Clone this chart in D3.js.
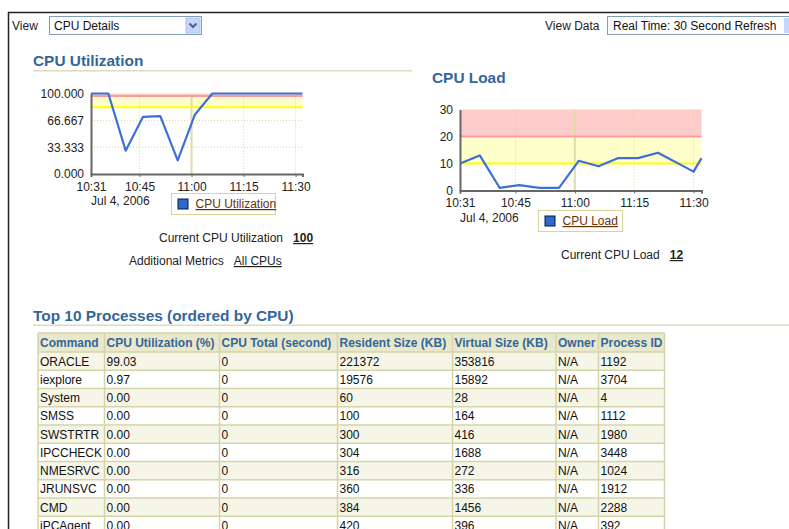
<!DOCTYPE html>
<html><head><meta charset="utf-8">
<script src="https://cdn.jsdelivr.net/npm/d3@7"></script>
<style>
html,body{margin:0;padding:0;background:#fff;overflow:hidden}
svg text{font-family:"Liberation Sans",Arial,sans-serif}
</style></head>
<body><svg id="c" width="789" height="529"></svg>
<script>
// ---- data ----
const times = ["10:31","10:36","10:41","10:46","10:51","10:56","11:01","11:06","11:11","11:16","11:21","11:30","11:32"];
const cpuUtil = [100,100,29,71,72,17,74,100,100,100,100,100,100];
const cpuLoad = [10,13,1,2,1,1,11,9,12,12,14,7,12];
const xTickLabels = ["10:31","10:45","11:00","11:15","11:30"];
const utilTicks = [0,33.333,66.667,100];
const loadTicks = [0,10,20,30];
const utilThresholds = [83,97];   // warning, critical
const loadThresholds = [10,20];
const dateLabel = "Jul 4, 2006";

const tableColumns = ["Command","CPU Utilization (%)","CPU Total (second)","Resident Size (KB)","Virtual Size (KB)","Owner","Process ID"];
const commands = ["ORACLE","iexplore","System","SMSS","SWSTRTR","IPCCHECK","NMESRVC","JRUNSVC","CMD","iPCAgent"];
const cpuPct = ["99.03","0.97","0.00","0.00","0.00","0.00","0.00","0.00","0.00","0.00"];
const cpuTotal = ["0","0","0","0","0","0","0","0","0","0"];
const residentKB = ["221372","19576","60","100","300","304","316","360","384","420"];
const virtualKB = ["353816","15892","28","164","416","1688","272","336","1456","396"];
const owners = ["N/A","N/A","N/A","N/A","N/A","N/A","N/A","N/A","N/A","N/A"];
const pids = ["1192","3704","4","1112","1980","3448","1024","1912","2288","392"];

const parse = d3.timeParse("%H:%M");
const svg = d3.select("#c");

// ---- page frame ----
svg.append("line").attr("x1",8).attr("x2",789).attr("y1",12.5).attr("y2",12.5).attr("stroke","#222").attr("stroke-width",1.5);
svg.append("line").attr("x1",8.5).attr("x2",8.5).attr("y1",12).attr("y2",529).attr("stroke","#222").attr("stroke-width",1.5);

// selects
svg.append("text").attr("x",12).attr("y",30).attr("font-size",12).attr("fill","#222").text("View");
svg.append("rect").attr("x",49.5).attr("y",16.5).attr("width",152).attr("height",18).attr("fill","#fff").attr("stroke","#7f9db9");
svg.append("text").attr("x",54).attr("y",30).attr("font-size",12).attr("fill","#111").text("CPU Details");
const btn = svg.append("g");
btn.append("rect").attr("x",186).attr("y",18).attr("width",14).attr("height",15).attr("fill","#c6d5fb").attr("stroke","#b0c4f0");
btn.append("path").attr("d","M189.5,23.5 L193,27 L196.5,23.5").attr("fill","none").attr("stroke","#4d6185").attr("stroke-width",2);
svg.append("text").attr("x",545).attr("y",30).attr("font-size",12).attr("fill","#222").text("View Data");
svg.append("rect").attr("x",607.5).attr("y",16.5).attr("width",200).attr("height",18).attr("fill","#fff").attr("stroke","#7f9db9");
svg.append("text").attr("x",613).attr("y",30).attr("font-size",12).attr("fill","#111").text("Real Time: 30 Second Refresh");
svg.append("rect").attr("x",784).attr("y",18).attr("width",10).attr("height",15).attr("fill","#c6d5fb");

// headings
function heading(x,y,txt,lineX2,lineY){
  svg.append("text").attr("x",x).attr("y",y).attr("font-size",15.4).attr("font-weight","bold").attr("fill","#336699").text(txt);
  if(lineX2) svg.append("rect").attr("x",x).attr("y",lineY).attr("width",lineX2-x).attr("height",1.5).attr("fill","#dcdcc0");
}
heading(33,66,"CPU Utilization",412,70);
heading(432,83,"CPU Load",null,null);
heading(33,321,"Top 10 Processes (ordered by CPU)",789,324.5);

// ---- charts ----
function chart(o){
  const x = d3.scaleTime().domain([parse("10:31"),parse("11:32")]).range([o.x0,o.x1]);
  const y = d3.scaleLinear().domain([0,o.ymax]).range([o.y0,o.y1]);
  const g = svg.append("g");
  // bands
  g.append("rect").attr("x",o.x0).attr("width",o.x1-o.x0).attr("y",y(o.ymax)).attr("height",y(o.th[1])-y(o.ymax)).attr("fill","#ffcccc");
  g.append("rect").attr("x",o.x0).attr("width",o.x1-o.x0).attr("y",y(o.th[1])).attr("height",y(o.th[0])-y(o.th[1])).attr("fill","#ffffcc");
  // grid
  o.ticks.filter(t=>t>0&&t<o.ymax).forEach(t=>{
    g.append("line").attr("x1",o.x0).attr("x2",o.x1).attr("y1",y(t)).attr("y2",y(t)).attr("stroke","#d8d490").attr("stroke-dasharray","1,2");
  });
  xTickLabels.slice(1).forEach(t=>{
    const xv = x(parse(t));
    const solid = t==="11:00";
    g.append("line").attr("x1",xv).attr("x2",xv).attr("y1",o.y1).attr("y2",o.y0)
      .attr("stroke",solid?"#dedca8":"#d8d490").attr("stroke-width",solid?2:1).attr("stroke-dasharray",solid?null:"1,2");
  });
  // threshold lines
  g.append("line").attr("x1",o.x0).attr("x2",o.x1).attr("y1",y(o.th[1])).attr("y2",y(o.th[1])).attr("stroke","#ff9a9a").attr("stroke-width",2);
  g.append("line").attr("x1",o.x0).attr("x2",o.x1).attr("y1",y(o.th[0])).attr("y2",y(o.th[0])).attr("stroke","#ffff00").attr("stroke-width",2);
  // axes
  const ya = g.append("g").attr("transform",`translate(${o.x0},0)`)
    .call(d3.axisLeft(y).tickValues(o.ticks).tickFormat(o.fmt).tickSize(0).tickPadding(7));
  const xa = g.append("g").attr("transform",`translate(0,${o.y0})`)
    .call(d3.axisBottom(x).tickValues(xTickLabels.map(parse)).tickFormat(d3.timeFormat("%H:%M")).tickSize(3).tickPadding(5));
  [ya,xa].forEach(a=>{
    a.select(".domain").attr("stroke","#666").attr("stroke-width",2);
    a.selectAll("text").attr("font-size",12).attr("fill","#222").attr("font-family","Liberation Sans, Arial, sans-serif");
    a.selectAll(".tick line").attr("stroke","#666");
  });
  // line
  const data = times.map((t,i)=>({t:parse(t),v:o.values[i]}));
  g.append("path").datum(data).attr("fill","none").attr("stroke","#3d6fd6").attr("stroke-width",2.2).attr("stroke-linejoin","round")
    .attr("d",d3.line().x(d=>x(d.t)).y(d=>y(d.v)));
  g.append("text").attr("x",o.x0).attr("y",o.y0+31).attr("font-size",12).attr("fill","#222").text(dateLabel);
  // legend
  const L = o.legend;
  g.append("rect").attr("x",L.x).attr("y",L.y).attr("width",L.w).attr("height",21).attr("fill","#fff").attr("stroke","#d9d49b");
  g.append("rect").attr("x",L.x+6.5).attr("y",L.y+5.5).attr("width",10).attr("height",10).attr("fill","#3366cc").attr("stroke","#001a4d");
  g.append("text").attr("x",L.x+24).attr("y",L.y+14.5).attr("font-size",12).attr("fill","#663300").attr("text-decoration","underline").text(L.label);
}
chart({x0:91,x1:302.5,y0:174,y1:93.5,ymax:100,ticks:utilTicks,fmt:d3.format(".3f"),th:utilThresholds,values:cpuUtil,
  legend:{x:171.5,y:193.5,w:104,label:"CPU Utilization"}});
chart({x0:460,x1:701.5,y0:190.5,y1:109.5,ymax:30,ticks:loadTicks,fmt:d3.format("d"),th:loadThresholds,values:cpuLoad,
  legend:{x:538.5,y:210.5,w:84,label:"CPU Load"}});

// metrics text
function metric(x,y,label,val,bold){
  const t = svg.append("text").attr("x",x).attr("y",y).attr("font-size",12).attr("fill","#222").text(label);
  svg.append("text").attr("x",x+ t.node().getComputedTextLength()+10).attr("y",y).attr("font-size",12)
    .attr("font-weight",bold?"bold":"normal").attr("fill","#222").attr("text-decoration","underline").text(val);
}
metric(159,242,"Current CPU Utilization","100",true);
metric(129,265,"Additional Metrics","All CPUs",false);
metric(561,259,"Current CPU Load","12",true);

// ---- table ----
const colX = [38,104.5,219.5,337.5,452.5,556,598.5,664.5];
const cols = [commands,cpuPct,cpuTotal,residentKB,virtualKB,owners,pids];
const top0 = 333, headH = 19, rowH = 18.25;
const tg = svg.append("g");
tg.append("rect").attr("x",colX[0]).attr("y",top0).attr("width",colX[7]-colX[0]).attr("height",headH).attr("fill","#e9e8cb");
commands.forEach((c,i)=>{
  tg.append("rect").attr("x",colX[0]).attr("y",top0+headH+i*rowH).attr("width",colX[7]-colX[0]).attr("height",rowH)
    .attr("fill",i%2===0?"#f6f6e8":"#ffffff");
});
const bottom = top0+headH+commands.length*rowH;
colX.forEach(cx=>tg.append("line").attr("x1",cx).attr("x2",cx).attr("y1",top0).attr("y2",bottom).attr("stroke","#d5d4a8").attr("stroke-width",1.5));
for(let i=0;i<=commands.length;i++){
  const yy = top0+headH+i*rowH;
  tg.append("line").attr("x1",colX[0]).attr("x2",colX[7]).attr("y1",yy).attr("y2",yy).attr("stroke","#d5d4a8").attr("stroke-width",1.5);
}
tg.append("line").attr("x1",colX[0]).attr("x2",colX[7]).attr("y1",top0).attr("y2",top0).attr("stroke","#d5d4a8").attr("stroke-width",1.5);
tableColumns.forEach((h,j)=>{
  tg.append("text").attr("x",colX[j]+2).attr("y",top0+14).attr("font-size",12).attr("font-weight","bold").attr("fill","#336699").text(h);
});
cols.forEach((col,j)=>{
  col.forEach((v,i)=>{
    tg.append("text").attr("x",colX[j]+2).attr("y",top0+headH+i*rowH+13.5).attr("font-size",12).attr("fill","#111").text(v);
  });
});
</script></body></html>
